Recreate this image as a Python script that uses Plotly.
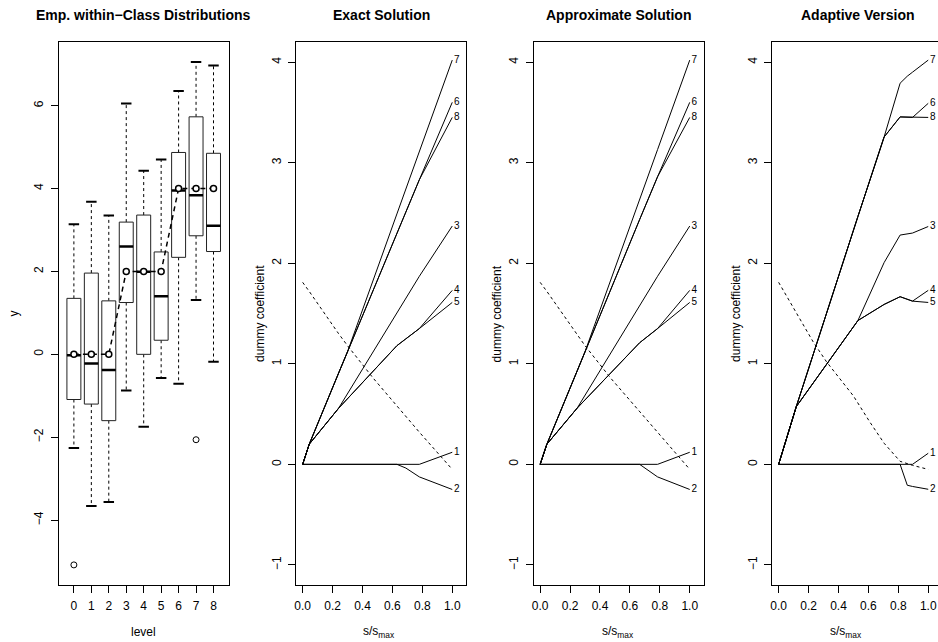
import plotly.graph_objects as go

# ---------------- data ----------------
levels = [0, 1, 2, 3, 4, 5, 6, 7, 8]
box_lo = [-2.26, -3.66, -3.56, -0.87, -1.75, -0.57, -0.71, 1.31, -0.18]
box_q1 = [-1.09, -1.20, -1.60, 1.25, 0.00, 0.34, 2.34, 2.86, 2.48]
box_med = [-0.02, -0.22, -0.38, 2.60, 1.99, 1.40, 3.95, 3.84, 3.10]
box_q3 = [1.35, 1.96, 1.29, 3.19, 3.36, 2.47, 4.87, 5.73, 4.85]
box_hi = [3.14, 3.68, 3.35, 6.05, 4.43, 4.70, 6.35, 7.05, 6.97]
level_means = [0, 0, 0, 2, 2, 2, 4, 4, 4]
outlier_level = [0, 7]
outlier_y = [-5.08, -2.06]

path_labels = ["1", "2", "3", "4", "5", "6", "7", "8"]

exact_s = [0, 0.044, 0.24, 0.30, 0.63, 0.69, 0.78, 1.0]
exact_coef = {
    "1": [0, 0, 0, 0, 0, 0, 0, 0.12],
    "2": [0, 0, 0, 0, 0, -0.037, -0.125, -0.25],
    "3": [0, 0.2, 0.557, 0.703, 1.505, 1.65, 1.87, 2.37],
    "4": [0, 0.2, 0.557, 0.653, 1.18, 1.248, 1.35, 1.73],
    "5": [0, 0.2, 0.557, 0.653, 1.18, 1.248, 1.35, 1.61],
    "6": [0, 0.2, 0.906, 1.12, 2.31, 2.52, 2.83, 3.60],
    "7": [0, 0.2, 0.906, 1.12, 2.49, 2.74, 3.11, 4.02],
    "8": [0, 0.2, 0.906, 1.12, 2.31, 2.52, 2.83, 3.45],
}
exact_crit_s = [0, 0.044, 0.24, 0.30, 0.47, 0.63, 0.78, 1.0]
exact_crit = [1.81, 1.72, 1.30, 1.18, 0.86, 0.58, 0.32, -0.05]

approx_s = [0, 0.045, 0.248, 0.30, 0.64, 0.665, 0.785, 1.0]
approx_coef = {
    "1": [0, 0, 0, 0, 0, 0, 0, 0.12],
    "2": [0, 0, 0, 0, 0, 0, -0.125, -0.25],
    "3": [0, 0.2, 0.56, 0.686, 1.509, 1.57, 1.87, 2.37],
    "4": [0, 0.2, 0.56, 0.642, 1.18, 1.209, 1.35, 1.73],
    "5": [0, 0.2, 0.56, 0.642, 1.18, 1.209, 1.35, 1.61],
    "6": [0, 0.2, 0.931, 1.12, 2.344, 2.434, 2.86, 3.60],
    "7": [0, 0.2, 0.931, 1.12, 2.53, 2.63, 3.13, 4.02],
    "8": [0, 0.2, 0.931, 1.12, 2.344, 2.434, 2.86, 3.45],
}
approx_crit_s = [0, 0.045, 0.248, 0.30, 0.47, 0.64, 0.785, 1.0]
approx_crit = [1.81, 1.72, 1.29, 1.18, 0.86, 0.57, 0.32, -0.05]

adapt_s = [0, 0.118, 0.53, 0.705, 0.812, 0.86, 0.895, 1.0]
adapt_coef = {
    "1": [0, 0, 0, 0, 0, 0, 0, 0.11],
    "2": [0, 0, 0, 0, 0, -0.208, -0.22, -0.248],
    "3": [0, 0.574, 1.43, 2.006, 2.28, 2.292, 2.30, 2.365],
    "4": [0, 0.574, 1.43, 1.59, 1.667, 1.64, 1.623, 1.73],
    "5": [0, 0.574, 1.43, 1.59, 1.667, 1.64, 1.623, 1.61],
    "6": [0, 0.574, 2.465, 3.255, 3.455, 3.452, 3.45, 3.59],
    "7": [0, 0.574, 2.465, 3.255, 3.79, 3.86, 3.90, 4.02],
    "8": [0, 0.574, 2.465, 3.255, 3.455, 3.452, 3.45, 3.45],
}
adapt_crit_s = [0, 0.118, 0.23, 0.32, 0.50, 0.61, 0.705, 0.812, 0.895, 1.0]
adapt_crit = [1.81, 1.50, 1.22, 1.02, 0.68, 0.42, 0.21, 0.03, -0.01, -0.05]

titles = ["Emp. within\u2212Class Distributions", "Exact Solution",
          "Approximate Solution", "Adaptive Version"]

# ---------------- layout geometry (window pixels) ----------------
OFF = 0                      # body margin is removed by the page script below
VW, VH = 938, 642            # browser window
W, H = VW - OFF, VH - OFF    # figure size
panel_x = [(57, 227), (295, 465), (533, 703), (772, 942)]
top_px, bot_px = 42, 585
FONT = "Liberation Sans, Arial, sans-serif"
label_gap = 0.012            # horizontal gap between path end and its label

def fx(px):
    return (px - OFF) / W

def fy(py):
    return 1 - (py - OFF) / H

fig = go.Figure()

# ---------------- panel 1: boxplots ----------------
bw = 0.4
cw = 0.3
rx, ry = [], []
mx, my = [], []
wx, wy = [], []
cx, cy = [], []
for i, lv in enumerate(levels):
    rx += [lv - bw, lv + bw, lv + bw, lv - bw, lv - bw, None]
    ry += [box_q1[i], box_q1[i], box_q3[i], box_q3[i], box_q1[i], None]
    mx += [lv - bw, lv + bw, None]
    my += [box_med[i], box_med[i], None]
    wx += [lv, lv, None, lv, lv, None]
    wy += [box_q3[i], box_hi[i], None, box_q1[i], box_lo[i], None]
    cx += [lv - cw, lv + cw, None, lv - cw, lv + cw, None]
    cy += [box_hi[i], box_hi[i], None, box_lo[i], box_lo[i], None]

common = dict(showlegend=False, hoverinfo="skip", xaxis="x", yaxis="y")
fig.add_trace(go.Scatter(x=wx, y=wy, mode="lines",
                         line=dict(color="black", width=1, dash="3px,3px"), **common))
fig.add_trace(go.Scatter(x=cx, y=cy, mode="lines",
                         line=dict(color="black", width=2), **common))
fig.add_trace(go.Scatter(x=rx, y=ry, mode="lines", fill="toself", fillcolor="white",
                         line=dict(color="#222", width=1), **common))
fig.add_trace(go.Scatter(x=mx, y=my, mode="lines",
                         line=dict(color="black", width=2.5), **common))
fig.add_trace(go.Scatter(x=outlier_level, y=outlier_y, mode="markers",
                         marker=dict(symbol="circle-open", size=6, color="black",
                                     line=dict(width=1)), **common))
fig.add_trace(go.Scatter(x=levels, y=level_means, mode="lines+markers",
                         line=dict(color="black", width=1.5, dash="5px,4px"),
                         marker=dict(symbol="circle", size=6, color="white",
                                     line=dict(color="black", width=1.5)), **common))

# ---------------- panels 2-4: coefficient paths ----------------
panels = [(exact_s, exact_coef, exact_crit_s, exact_crit),
          (approx_s, approx_coef, approx_crit_s, approx_crit),
          (adapt_s, adapt_coef, adapt_crit_s, adapt_crit)]
for k, (s, coef, cs, cv) in enumerate(panels):
    ax = str(k + 2)
    c = dict(showlegend=False, hoverinfo="skip", xaxis="x" + ax, yaxis="y" + ax)
    fig.add_trace(go.Scatter(x=cs, y=cv, mode="lines",
                             line=dict(color="black", width=1, dash="3px,3px"), **c))
    for lab in path_labels:
        fig.add_trace(go.Scatter(x=s, y=coef[lab], mode="lines",
                                 line=dict(color="black", width=1), **c))
    fig.add_trace(go.Scatter(x=[s[-1] + label_gap] * len(path_labels),
                             y=[coef[l][-1] for l in path_labels],
                             mode="text", text=path_labels, textposition="middle right",
                             textfont=dict(family=FONT, size=10, color="black"),
                             cliponaxis=False, **c))

# ---------------- axes ----------------
def xdom(i):
    a, b = panel_x[i]
    return [fx(a), min(fx(b), 1.0)]

ydom = [fy(bot_px), fy(top_px)]
axis_common = dict(showline=True, linecolor="black", linewidth=1, ticks="outside",
                   ticklen=7, tickcolor="black", tickwidth=1, showgrid=False,
                   zeroline=False, tickfont=dict(family=FONT, size=12, color="black"),
                   ticklabelstandoff=3)

layout = dict(width=W, height=H, autosize=False, margin=dict(l=0, r=0, t=0, b=0),
              paper_bgcolor="white", plot_bgcolor="white", showlegend=False)

layout["xaxis"] = dict(domain=xdom(0), range=[-0.86, 8.86], tickvals=levels,
                       ticktext=[str(l) for l in levels], mirror=True, anchor="y",
                       **axis_common)
layout["yaxis"] = dict(domain=ydom, range=[-5.565, 7.535], tickvals=[-4, -2, 0, 2, 4, 6],
                       tickangle=-90, mirror=True, anchor="x", **axis_common)
xr = [-0.042, 1.092]
for k in range(3):
    n = str(k + 2)
    i = k + 1
    a, b = panel_x[i]
    vis_right = min(b, VW)
    right = xr[0] + (vis_right - a) / (b - a) * (xr[1] - xr[0])
    layout["xaxis" + n] = dict(domain=[fx(a), fx(vis_right)], range=[xr[0], right],
                               tickvals=[0, 0.2, 0.4, 0.6, 0.8, 1.0],
                               ticktext=["0.0", "0.2", "0.4", "0.6", "0.8", "1.0"],
                               mirror=True, anchor="y" + n, **axis_common)
    layout["yaxis" + n] = dict(domain=ydom, range=[-1.2, 4.2],
                               tickvals=[-1, 0, 1, 2, 3, 4], tickangle=-90,
                               mirror=(b <= VW), anchor="x" + n, **axis_common)

# ---------------- text annotations ----------------
ann = []
def px_ann(x, y, text, size=12, angle=0):
    ann.append(dict(x=fx(x), y=fy(y), xref="paper", yref="paper", text=text,
                    showarrow=False, textangle=angle, xanchor="center", yanchor="middle",
                    font=dict(family=FONT, size=size, color="black")))

title_cx = [142, 380, 618, 858]
for t, cxp in zip(titles, title_cx):
    px_ann(cxp, 15, "<b>" + t + "</b>", size=14)
px_ann(12, 313.5, "y", angle=-90)
px_ann(142, 632, "level")
for x0, xl in [(258, 378), (496, 617), (735, 846)]:
    px_ann(x0, 313.5, "dummy coefficient", angle=-90)
    px_ann(xl, 632, "s/s<sub>max</sub>")
layout["annotations"] = ann

fig.update_layout(**layout)
# remove the default page margin so the figure fills the window exactly
fig.write_html("out.html", config={"displayModeBar": False, "staticPlot": True},
               post_script="document.body.style.margin='0px';"
                           "document.documentElement.style.overflow='hidden';")
